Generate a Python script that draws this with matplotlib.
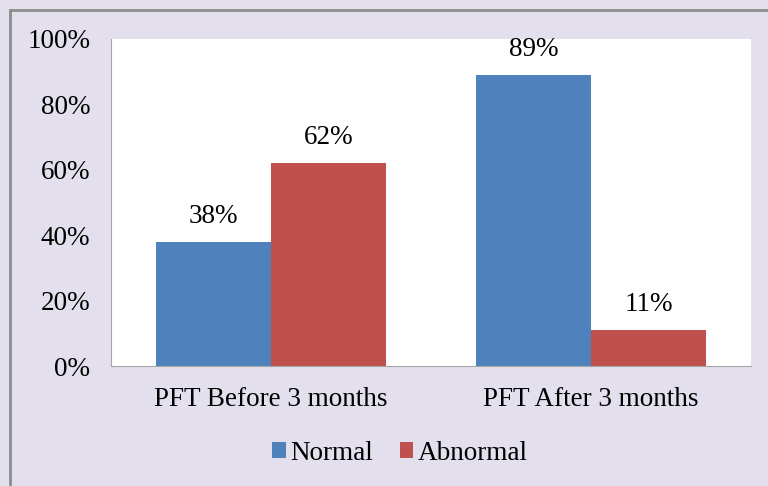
import matplotlib.pyplot as plt
import numpy as np
from matplotlib.patches import Rectangle

categories = ["PFT Before 3 months", "PFT After 3 months"]
normal = [38, 89]
abnormal = [62, 11]
yticks = [0, 20, 40, 60, 80, 100]

plt.rcParams['font.family'] = ['Liberation Serif', 'DejaVu Serif']
fs = 19.5

fig = plt.figure(figsize=(7.68, 4.86), dpi=100)
fig.patch.set_facecolor('#E4DFEC')
# outer frame (only top and left visible in the crop)
fig.add_artist(Rectangle((9.5 / 768, -0.1), 1.2, (486 - 9.5) / 486 + 0.1,
                         transform=fig.transFigure, fill=False,
                         edgecolor='#8C8C8C', linewidth=2))

ax = fig.add_axes([111 / 768, 1 - 366 / 486, 640 / 768, 327 / 486])
ax.set_facecolor('white')

x = np.arange(len(categories))
w = 0.36
b1 = ax.bar(x - w / 2, normal, w, color='#4F81BD', label='Normal')
b2 = ax.bar(x + w / 2, abnormal, w, color='#C0504D', label='Abnormal')

for bars, vals in [(b1, normal), (b2, abnormal)]:
    for r, v in zip(bars, vals):
        ax.text(r.get_x() + r.get_width() / 2, v + 4, f"{v}%",
                ha='center', va='bottom', fontsize=fs)

ax.set_xlim(-0.5, 1.5)
ax.set_ylim(0, 100)
ax.set_yticks(yticks)
ax.set_yticklabels([f"{t}%" for t in yticks], fontsize=fs)
ax.set_xticks(x)
ax.set_xticklabels(categories, fontsize=fs)
ax.tick_params(axis='y', length=0, pad=15)
ax.tick_params(axis='x', length=0, pad=15)
for s in ['top', 'right']:
    ax.spines[s].set_visible(False)
for s in ['left', 'bottom']:
    ax.spines[s].set_color('#A6A6A6')

ax.legend(loc='center', bbox_to_anchor=(400 / 768, 1 - 453 / 486),
          bbox_transform=fig.transFigure, ncol=2, frameon=False,
          fontsize=fs, handlelength=0.5, handleheight=0.5,
          handletextpad=0.15, columnspacing=1.0)

fig.savefig('out.png', dpi=100, facecolor=fig.get_facecolor())
